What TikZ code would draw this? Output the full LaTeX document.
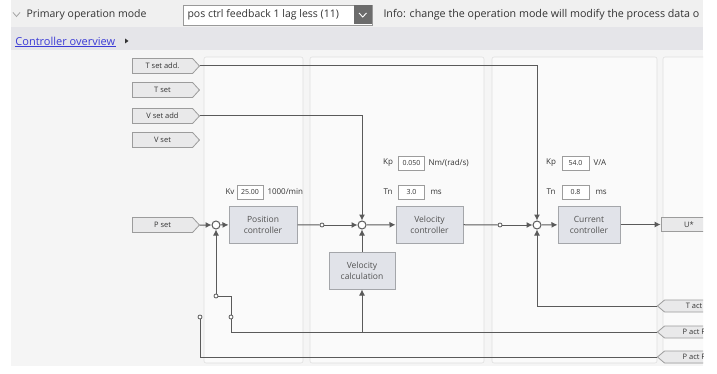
\documentclass[tikz,border=0pt]{standalone}
\usepackage{fontspec}
\setmainfont{Open Sans}
\usetikzlibrary{arrows.meta,shapes.symbols}
\definecolor{wiregrey}{HTML}{5A5A5A}
\definecolor{boxfill}{HTML}{E1E3E9}
\definecolor{boxline}{HTML}{A4A6AA}
\definecolor{tagfill}{HTML}{E9E9EA}
\definecolor{tagline}{HTML}{9C9C9C}
\definecolor{txt}{HTML}{333333}
\definecolor{linkblue}{HTML}{3B3BD6}
\definecolor{barone}{HTML}{F0F0F0}
\definecolor{bartwo}{HTML}{E5E5E9}
\definecolor{canvas}{HTML}{F5F5F5}
\definecolor{panelfill}{HTML}{FAFAFA}
\definecolor{panelline}{HTML}{E0E0E0}

\begin{document}
\begin{tikzpicture}[x=1pt, y=-1pt, line width=1pt,
                      >={Latex[length=6pt,width=6pt]},
                      wire/.style = {draw = wiregrey},
                      ctrl/.style = {draw = boxline, fill = boxfill, minimum width = 68pt, minimum height = 37pt,
                                     inner sep = 1pt, align = center, text = txt!85, font = \fontsize{8.5}{11}\selectfont},
                      sum/.style = {circle, draw = wiregrey, fill = white, minimum size = 8pt, inner sep = 0pt},
                      tap/.style = {circle, draw = wiregrey, fill = white, minimum size = 4pt, inner sep = 0pt, line width = 0.8pt},
                      intag/.style = {signal, signal to = east, signal pointer angle = 95, draw = tagline, fill = tagfill,
                                      minimum width = 67pt, minimum height = 15pt, inner sep = 1pt, line width = 0.8pt,
                                      text = txt, font = \fontsize{7.5}{9}\selectfont},
                      outtag/.style = {intag, signal to = west, signal pointer angle = 80, minimum height = 12pt,
                                       minimum width = 66pt},
                      param/.style = {draw = tagline, fill = white, minimum width = 26pt, minimum height = 14pt,
                                      inner sep = 1pt, line width = 0.8pt, text = txt, font = \fontsize{7}{8}\selectfont},
                      lbl/.style = {inner sep = 0pt, text = txt, font = \fontsize{8}{9}\selectfont},
                      panel/.style = {draw = panelline, fill = panelfill, rounded corners = 2pt, line width = 0.6pt}]
    \useasboundingbox (0, 0) rectangle (717, 374);
    \fill[white] (0, 0) rectangle (717, 374);
    \begin{scope}
    \clip (11, 0) rectangle (703, 366);
    \fill[barone] (11, 0) rectangle (703, 27);
    \fill[bartwo] (11, 27) rectangle (703, 50);
    \fill[canvas] (11, 50) rectangle (703, 366);
    \draw[panel] (204, 57) rectangle (303, 363);
    \draw[panel] (310, 57) rectangle (484, 363);
    \draw[panel] (492, 57) rectangle (657, 363);
    \draw[panel] (663, 57) rectangle (720, 363);

    \draw[line width = 0.8pt, draw = gray!70] (13, 12.5) -- (16.5, 16.5) -- (20, 12.5);
    \node [anchor = west, inner sep = 0pt, text = txt, font = \fontsize{10.5}{12}\selectfont] (mode) at (26, 14.5) {Primary operation mode};
    \draw[draw = gray!80, fill = white, line width = 0.7pt] (183, 5) rectangle (372, 25);
    \node [anchor = west, inner sep = 0pt, text = txt, font = \fontsize{10.5}{12}\selectfont] (modeval) at (187, 15) {pos ctrl feedback 1 lag less (11)};
    \fill[gray!85!black] (354, 5.5) rectangle (371.5, 24.5);
    \draw[white, line width = 0.9pt] (359, 13) -- (362.75, 17) -- (366.5, 13);
    \node [anchor = west, inner sep = 0pt, text = txt, font = \fontsize{10.7}{12}\selectfont] (info) at (383, 14.5) {Info: change the operation mode will modify the process data o};
    \node [anchor = west, inner sep = 0pt, text = linkblue, font = \fontsize{11}{13}\selectfont] (link) at (15, 41) {Controller overview};
    \draw[linkblue, line width = 0.6pt] ([yshift = -1pt]link.south west) -- ([yshift = -1pt]link.south east);
    \fill[txt] (125, 38.5) -- (128.5, 41) -- (125, 43.5) -- cycle;

    \node [intag] (tsetadd) at (162.5, 66) {T set add.};
    \node [intag] (tset) at (162.5, 90) {T set};
    \node [intag] (vsetadd) at (162.5, 116) {V set add};
    \node [intag] (vset) at (162.5, 140) {V set};
    \node [intag] (pset) at (162.5, 225) {P set};

    \node [sum] (possum) at (216, 225) {};
    \node [ctrl] (posctrl) at (263, 224.5) {Position\\controller};
    \node [lbl] (kvlbl) at (230, 192) {Kv};
    \node [param] (kvval) at (250, 192) {25.00};
    \node [lbl, anchor = west] (kvunit) at (267, 192) {1000/min};
    \node [tap] (posdot) at (322, 225) {};

    \node [sum] (velsum) at (362, 225) {};
    \node [ctrl, minimum width = 67pt] (velctrl) at (429.5, 224.5) {Velocity\\controller};
    \node [ctrl, minimum width = 66pt] (velcalc) at (362, 270.5) {Velocity\\calculation};
    \node [lbl] (vkplbl) at (388, 163) {Kp};
    \node [param] (vkpval) at (411.5, 163) {0.050};
    \node [lbl, anchor = west] (vkpunit) at (428, 163) {Nm/(rad/s)};
    \node [lbl] (vtnlbl) at (388, 192) {Tn};
    \node [param] (vtnval) at (411.5, 192) {3.0\hspace{8pt}};
    \node [lbl, anchor = west] (vtnunit) at (430, 192) {ms};
    \node [tap] (veldot) at (500, 225) {};

    \node [sum] (cursum) at (537, 225) {};
    \node [ctrl, minimum width = 62pt] (curctrl) at (589, 224.5) {Current\\controller};
    \node [lbl] (ckplbl) at (551, 163) {Kp};
    \node [param, minimum width = 27pt] (ckpval) at (575.5, 163) {54.0\hspace{6pt}};
    \node [lbl, anchor = west] (ckpunit) at (593, 163) {V/A};
    \node [lbl] (ctnlbl) at (551, 192) {Tn};
    \node [param, minimum width = 27pt] (ctnval) at (575.5, 192) {0.8\hspace{9pt}};
    \node [lbl, anchor = west] (ctnunit) at (595, 192) {ms};
    \node [draw = tagline, fill = tagfill, line width = 0.8pt, minimum width = 56pt, minimum height = 14pt,
           inner sep = 1pt, text = txt, font = \fontsize{7.5}{9}\selectfont] (uout) at (689, 224.5) {U*};

    \node [outtag] (tact) at (694, 306) {T act};
    \node [outtag] (pacta) at (694, 332) {P act F};
    \node [outtag] (pactb) at (694, 357) {P act F};

    \node [tap] (swa) at (216, 296) {};
    \node [tap] (swb) at (200, 317) {};
    \node [tap] (swc) at (231, 317) {};

    \draw[wire, ->] (pset) -- (possum);
    \draw[wire, ->] (possum) -- (posctrl);
    \draw[wire] (posctrl) -- (posdot);
    \draw[wire, ->] (posdot) -- (velsum);
    \draw[wire, ->] (velsum) -- (velctrl);
    \draw[wire] (velctrl) -- (veldot);
    \draw[wire, ->] (veldot) -- (cursum);
    \draw[wire, ->] (cursum) -- (curctrl);
    \draw[wire, ->] (curctrl) -- (uout);
    \draw[wire, ->] (tsetadd.east) -| (cursum.north);
    \draw[wire, ->] (vsetadd.east) -| (velsum.north);
    \draw[wire, ->] (velcalc) -- (velsum);
    \draw[wire, ->] (tact.west) -| (cursum.south);
    \draw[wire] (pacta.west) -| (swc.south);
    \draw[wire, ->] (velcalc |- pacta.west) -- (velcalc.south);
    \draw[wire] (pactb.west) -| (swb.south);
    \draw[wire, ->] (swa) -- (possum);
    \draw[wire] (swa.east) -| (swc.north);
    \end{scope}
    \end{tikzpicture}
\end{document}
